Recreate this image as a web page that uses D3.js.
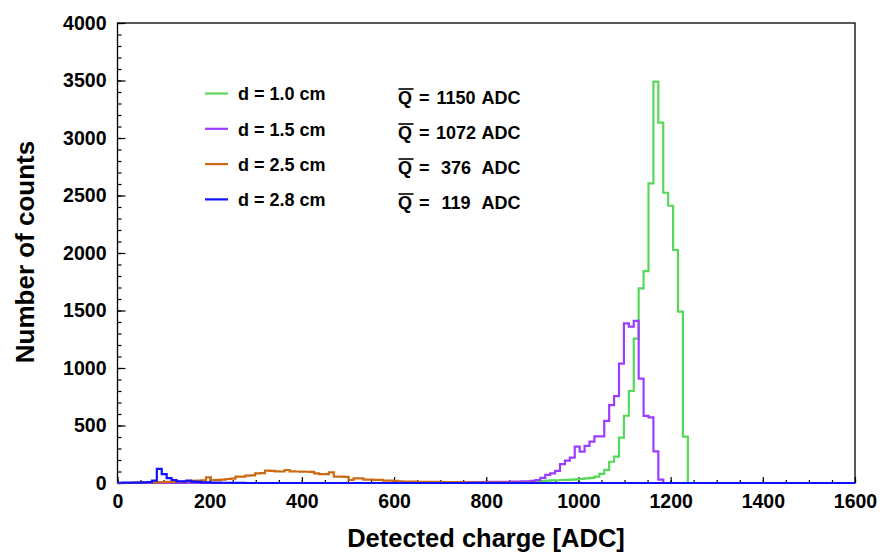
<!DOCTYPE html>
<html><head><meta charset="utf-8">
<script src="https://cdn.jsdelivr.net/npm/d3@7"></script>
<style>
body{margin:0;background:#fff}
svg{display:block}
text{font-family:"Liberation Sans",Arial,Helvetica,sans-serif;font-weight:bold;fill:#000}
</style>
</head><body>
<svg id="chart" width="880" height="553"></svg>
<script>
// ---- histogram definition ----
const xRange = [0, 1600];
const nBins = 150;

// d = 1.0 cm (green), counts starting at bin index greenStart
const greenStart = 70;
const greenCounts = [2,2,3,3,3,4,4,5,5,5,
  6,7,8,10,12,15,18,20,22,24,26,28,30,32,36,40,45,55,
  80,115,185,229,394,585,800,1255,1693,1843,2606,3490,3133,2524,2411,2026,1490,403];

// d = 1.5 cm (purple)
const purpleStart = 60;
const purpleCounts = [3,3,4,4,4,5,5,5,6,6,
  6,7,7,8,8,9,9,10,10,10,12,12,14,15,18,
  26,45,70,84,105,165,195,220,316,272,322,359,405,405,540,678,755,1038,1388,1359,1410,907,584,570,275,30];

// d = 2.5 cm (orange)
const orangeStart = 3;
const orangeCounts = [4,5,5,6,6,7,8,
  9,10,12,13,15,18,20,22,49,26,28,30,35,38,55,56,64,66,84,86,107,105,101,100,113,101,100,99,98,97,84,78,78,93,
  55,55,54,26,41,40,30,29,28,28,20,20,19,15,13,12,12,11,
  10,10,9,9,8,8,7,6,6,5,4,4,4,3,3,3,3,2,2,2,2,1,1,1];

// d = 2.8 cm (blue)
const blueStart = 0;
const blueCounts = [2,3,3,3,4,5,8,20,122,78,43,26,14,14,20,12,10,6,5,4,3,2,2,1,1,1];

// legend / annotation text
const legendLabels = ["d = 1.0 cm", "d = 1.5 cm", "d = 2.5 cm", "d = 2.8 cm"];
const meanValues = ["1150", "1072", "376", "119"];
const seriesColors = ["#58d858", "#9b3dff", "#cc6a14", "#1010ff"];

// axis ticks
const xMajorTicks = d3.range(0, 1601, 200);
const xMinorTicks = d3.range(0, 1601, 50);
const yMajorTicks = d3.range(0, 4001, 500);
const yMinorTicks = d3.range(0, 4001, 100);

// ---- drawing ----
const svg = d3.select("#chart");
svg.append("rect").attr("width", 880).attr("height", 553).attr("fill", "#fff");

const L = 117.5, R = 855, T = 23, B = 483;
const x = d3.scaleLinear().domain(xRange).range([L, R]);
const y = d3.scaleLinear().domain([0, 4000]).range([B, T]);

function fullBins(start, counts) {
  const arr = new Array(nBins).fill(0);
  counts.forEach((c, i) => { if (start + i < nBins) arr[start + i] = c; });
  return arr;
}
const binW = (xRange[1] - xRange[0]) / nBins;
function stepPoints(arr) {
  const pts = arr.map((c, i) => [xRange[0] + i * binW, c]);
  pts.push([xRange[1], arr[arr.length - 1]]);
  return pts;
}
const line = d3.line().x(d => x(d[0])).y(d => y(d[1])).curve(d3.curveStepAfter);

// frame
svg.append("rect").attr("x", L).attr("y", T).attr("width", R - L).attr("height", B - T)
  .attr("fill", "none").attr("stroke", "#000").attr("stroke-width", 1.3);

// y axis
const yMinor = svg.append("g").attr("transform", `translate(${L},0)`)
  .call(d3.axisLeft(y).tickValues(yMinorTicks).tickSize(-4).tickFormat(""));
const yMajor = svg.append("g").attr("transform", `translate(${L},0)`)
  .call(d3.axisLeft(y).tickValues(yMajorTicks).tickSize(-8).tickPadding(11).tickFormat(d3.format("d")));
// x axis
const xMinor = svg.append("g").attr("transform", `translate(0,${B})`)
  .call(d3.axisBottom(x).tickValues(xMinorTicks).tickSize(-3).tickFormat(""));
const xMajor = svg.append("g").attr("transform", `translate(0,${B})`)
  .call(d3.axisBottom(x).tickValues(xMajorTicks).tickSize(-6).tickPadding(10).tickFormat(d3.format("d")));
[yMinor, yMajor, xMinor, xMajor].forEach(g => {
  g.select(".domain").remove();
  g.selectAll(".tick line").attr("stroke", "#000").attr("stroke-width", 1.2);
  g.selectAll("text").attr("font-size", 19.5).attr("font-family", null).attr("fill", "#000");
});
xMajor.selectAll("text").attr("dy", "0.76em");

// histograms
const series = [
  fullBins(greenStart, greenCounts),
  fullBins(purpleStart, purpleCounts),
  fullBins(orangeStart, orangeCounts),
  fullBins(blueStart, blueCounts)
];
series.forEach((arr, i) => {
  svg.append("path").attr("d", line(stepPoints(arr)))
    .attr("fill", "none").attr("stroke", seriesColors[i]).attr("stroke-width", 2.2);
});

// axis titles
svg.append("text").attr("x", 486).attr("y", 546.5).attr("text-anchor", "middle")
  .attr("font-size", 25.5).text("Detected charge [ADC]");
svg.append("text").attr("transform", "translate(34,252) rotate(-90)").attr("text-anchor", "middle")
  .attr("font-size", 26).text("Number of counts");

// legend
legendLabels.forEach((lab, i) => {
  const ly = 93.5 + i * 35.3;
  svg.append("line").attr("x1", 205).attr("x2", 228).attr("y1", ly).attr("y2", ly)
    .attr("stroke", seriesColors[i]).attr("stroke-width", 2.2);
  svg.append("text").attr("x", 238).attr("y", ly + 6.8).attr("font-size", 18).text(lab);
  const qy = 103.5 + i * 35;
  svg.append("text").attr("x", 398).attr("y", qy).attr("font-size", 18).text("Q");
  svg.append("line").attr("x1", 398.5).attr("x2", 413.5).attr("y1", qy - 14.5).attr("y2", qy - 14.5)
    .attr("stroke", "#000").attr("stroke-width", 1.6);
  svg.append("text").attr("x", 419).attr("y", qy).attr("font-size", 18).text("=");
  svg.append("text").attr("x", 456).attr("y", qy).attr("font-size", 18).attr("text-anchor", "middle").text(meanValues[i]);
  svg.append("text").attr("x", 481.5).attr("y", qy).attr("font-size", 18).text("ADC");
});
</script>
</body></html>
